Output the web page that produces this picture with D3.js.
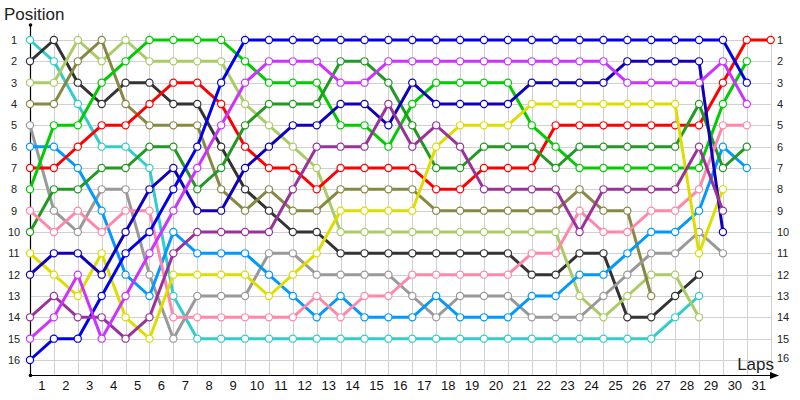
<!DOCTYPE html>
<html>
<head>
<meta charset="utf-8">
<script src="https://cdn.jsdelivr.net/npm/d3@7/dist/d3.min.js"></script>
<style>
  body { margin: 0; background: #fff; }
  svg { display: block; font-family: "Liberation Sans", Arial, sans-serif; }
</style>
</head>
<body>
<svg id="chart" width="800" height="400"></svg>
<script>
// positions per lap, lap 0 = grid
var laps = d3.range(0, 32);
var lapLabels = d3.range(1, 32);
var positions = d3.range(1, 17);

var driverNames = ['cyan', 'black', 'lightolive', 'olive', 'gray', 'skyblue', 'red', 'green',
  'darkgreen', 'pink', 'yellow', 'navy', 'blue', 'purple', 'violet'];
var driverColors = ['#33cccc', '#333333', '#aacc66', '#888844', '#999999', '#0099ff', '#ff0000', '#00cc00',
  '#229922', '#ff88aa', '#dddd00', '#1100bb', '#0000ee', '#993399', '#cc33ff'];

var cyanPos       = [1, 2, 4, 6, 6, 7, 13, 15, 15, 15, 15, 15, 15, 15, 15, 15, 15, 15, 15, 15, 15, 15, 15, 15, 15, 15, 15, 14, 13];
var blackPos      = [2, 1, 3, 4, 3, 3, 4, 4, 6, 8, 9, 10, 10, 11, 11, 11, 11, 11, 11, 11, 11, 12, 12, 11, 11, 14, 14, 13, 12];
var lightolivePos = [3, 3, 1, 2, 1, 2, 2, 2, 2, 4, 5, 6, 7, 10, 10, 10, 10, 10, 10, 10, 10, 10, 10, 13, 14, 13, 12, 12, 14];
var olivePos      = [4, 4, 2, 1, 4, 5, 5, 5, 8, 9, 8, 9, 9, 8, 8, 8, 8, 9, 9, 9, 9, 9, 9, 8, 9, 9, 13];
var grayPos       = [5, 9, 10, 8, 8, 12, 15, 13, 13, 13, 11, 11, 12, 12, 12, 12, 13, 14, 13, 13, 13, 14, 14, 14, 13, 12, 11, 11, 10, 11];
var skybluePos    = [6, 6, 7, 9, 12, 13, 10, 11, 11, 11, 12, 13, 14, 13, 14, 14, 14, 13, 14, 14, 14, 13, 13, 12, 12, 11, 10, 10, 9, 6, 7];
var redPos        = [7, 7, 6, 5, 5, 4, 3, 3, 4, 6, 7, 7, 8, 7, 7, 7, 7, 8, 8, 7, 7, 7, 5, 5, 5, 5, 5, 5, 5, 3, 1, 1];
var greenPos      = [8, 5, 5, 3, 2, 1, 1, 1, 1, 2, 3, 3, 3, 5, 5, 6, 4, 3, 3, 3, 3, 5, 6, 7, 7, 7, 7, 7, 7, 4, 2];
var darkgreenPos  = [10, 8, 8, 7, 7, 6, 6, 8, 7, 5, 4, 4, 4, 2, 2, 3, 5, 7, 7, 6, 6, 6, 7, 6, 6, 6, 6, 6, 4, 7, 6];
var pinkPos       = [9, 10, 9, 10, 9, 9, 14, 14, 14, 14, 14, 14, 13, 14, 13, 13, 12, 12, 12, 12, 12, 11, 11, 9, 10, 10, 9, 9, 8, 5, 5];
var yellowPos     = [11, 12, 13, 11, 14, 15, 12, 12, 12, 12, 13, 12, 11, 9, 9, 9, 9, 6, 5, 5, 5, 4, 4, 4, 4, 4, 4, 4, 11, 8];
var navyPos       = [12, 11, 11, 12, 10, 8, 7, 9, 9, 7, 6, 5, 5, 4, 4, 5, 3, 4, 4, 4, 4, 3, 3, 3, 3, 2, 2, 2, 2, 10];
var bluePos       = [16, 15, 15, 13, 11, 10, 8, 6, 3, 1, 1, 1, 1, 1, 1, 1, 1, 1, 1, 1, 1, 1, 1, 1, 1, 1, 1, 1, 1, 1, 3];
var purplePos     = [14, 13, 14, 14, 15, 14, 11, 10, 10, 10, 10, 8, 6, 6, 6, 4, 6, 5, 6, 8, 8, 8, 8, 10, 8, 8, 8, 8, 6, 9];
var violetPos     = [15, 14, 12, 15, 13, 11, 9, 7, 5, 3, 2, 2, 2, 3, 3, 2, 2, 2, 2, 2, 2, 2, 2, 2, 2, 3, 3, 3, 3, 2, 4];

var driverPositions = [cyanPos, blackPos, lightolivePos, olivePos, grayPos, skybluePos, redPos, greenPos,
  darkgreenPos, pinkPos, yellowPos, navyPos, bluePos, purplePos, violetPos];

var svg = d3.select('#chart');

var plotLeft = 30, plotRight = 770.7, plotTop = 40, plotBottom = 360;

var x = d3.scaleLinear().domain([0, 31]).range([plotLeft, plotRight]);
var y = d3.scaleLinear().domain([1, 16]).range([plotTop, plotBottom]);
var xBand = d3.scaleBand().domain(lapLabels).range([plotLeft, plotRight]).padding(0);

/**
 * Grid
 */
var grid = svg.append('g').attr('class', 'grid')
  .attr('stroke', '#d0d0d0')
  .attr('stroke-width', 1)
  .attr('shape-rendering', 'crispEdges');

grid.selectAll('line.v')
  .data(laps)
  .enter()
  .append('line')
  .attr('class', 'v')
  .attr('x1', function (d) { return Math.round(x(d)) + 0.5; })
  .attr('x2', function (d) { return Math.round(x(d)) + 0.5; })
  .attr('y1', 33)
  .attr('y2', 375);

grid.selectAll('line.h')
  .data(positions)
  .enter()
  .append('line')
  .attr('class', 'h')
  .attr('x1', plotLeft)
  .attr('x2', plotRight)
  .attr('y1', function (d) { return Math.round(y(d)) + 0.5; })
  .attr('y2', function (d) { return Math.round(y(d)) + 0.5; });

/**
 * Axes
 */
svg.append('line')
  .attr('x1', plotLeft + 0.5).attr('x2', plotLeft + 0.5)
  .attr('y1', 25).attr('y2', 375.5)
  .attr('stroke', '#000').attr('stroke-width', 1.2);

svg.append('line')
  .attr('x1', plotLeft).attr('x2', 772)
  .attr('y1', 375.5).attr('y2', 375.5)
  .attr('stroke', '#000').attr('stroke-width', 1.2);

svg.append('path')
  .attr('d', 'M770,372 L779,375.5 L770,379 Z')
  .attr('fill', '#000');

svg.selectAll('circle.axis-dot')
  .data([[plotLeft + 0.5, 25], [plotLeft + 0.5, 375.5]])
  .enter()
  .append('circle')
  .attr('class', 'axis-dot')
  .attr('cx', function (d) { return d[0]; })
  .attr('cy', function (d) { return d[1]; })
  .attr('r', 1.8)
  .attr('fill', '#000');

var yLeft = svg.append('g')
  .attr('transform', 'translate(20,0)')
  .call(d3.axisLeft(y).tickValues(positions).tickSize(0).tickPadding(0));
yLeft.select('.domain').remove();
yLeft.selectAll('text')
  .attr('text-anchor', 'middle')
  .attr('x', -6)
  .attr('fill', '#222')
  .style('font-size', '11px');

var yRight = svg.append('g')
  .attr('transform', 'translate(777,0)')
  .call(d3.axisRight(y).tickValues(positions).tickSize(0).tickPadding(0));
yRight.select('.domain').remove();
yRight.selectAll('text')
  .attr('fill', '#222')
  .style('font-size', '11px');
yRight.selectAll('.tick')
  .filter(function (d) { return d === 16; })
  .select('text')
  .attr('dy', '0.1em');

var xAxis = svg.append('g')
  .attr('transform', 'translate(0,381)')
  .call(d3.axisBottom(xBand).tickSize(0).tickPadding(0));
xAxis.select('.domain').remove();
xAxis.selectAll('text')
  .attr('fill', '#111')
  .style('font-size', '13px');

svg.append('text')
  .attr('x', 4)
  .attr('y', 20)
  .attr('fill', '#222')
  .style('font-size', '17px')
  .text('Position');

svg.append('text')
  .attr('x', 774)
  .attr('y', 370)
  .attr('text-anchor', 'end')
  .attr('fill', '#222')
  .style('font-size', '17px')
  .text('Laps');

/**
 * Driver lines
 */
var drawLine = d3.line()
  .x(function (d, i) { return x(i); })
  .y(function (d) { return y(d); });

var driverGroups = svg.append('g')
  .attr('class', 'drivers')
  .selectAll('g.driver')
  .data(driverPositions)
  .enter()
  .append('g')
  .attr('class', 'driver')
  .attr('id', function (d, i) { return 'driver-' + driverNames[i]; });

driverGroups
  .append('path')
  .attr('d', drawLine)
  .attr('fill', 'none')
  .attr('stroke', function (d, i) { return driverColors[i]; })
  .attr('stroke-width', 3)
  .attr('stroke-linejoin', 'round');

driverGroups.each(function (d, i) {
  d3.select(this)
    .selectAll('circle')
    .data(d)
    .enter()
    .append('circle')
    .attr('cx', function (p, lap) { return x(lap); })
    .attr('cy', function (p) { return y(p); })
    .attr('r', 3.6)
    .attr('fill', '#fff')
    .attr('stroke', driverColors[i])
    .attr('stroke-width', 1.2);
});
</script>
</body>
</html>
